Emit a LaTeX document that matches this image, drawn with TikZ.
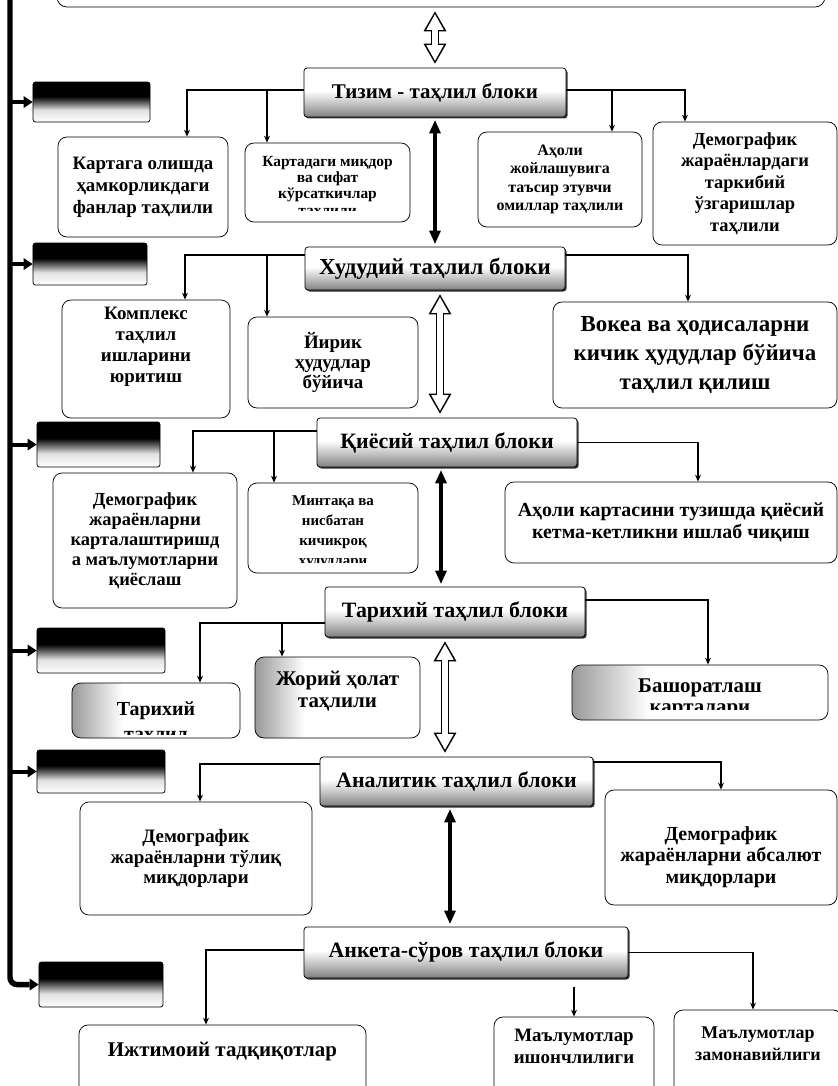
\documentclass[tikz,border=0pt]{standalone}
\usepackage{fontspec}
\setmainfont{Liberation Serif}
\usetikzlibrary{positioning,arrows.meta,shadows}
\tikzset{every picture/.style={line width=0.75pt}}
\pgfdeclareverticalshading{tagshade}{100bp}{color(0bp)=(white); color(25bp)=(white); color(40bp)=(black!12); color(51bp)=(black!70); color(57bp)=(black); color(100bp)=(black)}
\pgfdeclareverticalshading{blockshade}{100bp}{color(0bp)=(black!50); color(25bp)=(black!50); color(38bp)=(black!25); color(52bp)=(white); color(100bp)=(white)}
\pgfdeclarehorizontalshading{greyshade}{100bp}{color(0bp)=(black!40); color(25bp)=(black!40); color(40bp)=(white); color(100bp)=(white)}
\tikzset{
  blockbox/.style={draw, rounded corners=3pt, shading=blockshade,
    drop shadow={shadow xshift=1.5pt, shadow yshift=-1.5pt, fill=black!80, opacity=1},
    inner sep=0pt, font=\bfseries},
  tagbox/.style={draw, rounded corners=2.5pt, shading=tagshade, inner sep=0pt},
  itembox/.style={draw, rounded corners=9pt, fill=white, align=center, inner sep=0pt, font=\bfseries},
  greybox/.style={itembox, shading=greyshade},
  itemtext/.style={align=center, inner sep=0pt, font=\bfseries},
  link/.style={line width=1.1pt, -{Stealth[length=7pt,width=6pt,line width=0pt]}},
  feed/.style={line width=4pt, -{Triangle[length=9pt,width=12pt,line width=0pt]}},
  solidarr/.style={line width=5pt, {Triangle[length=13pt,width=12pt,line width=0pt]}-{Triangle[length=13pt,width=12pt,line width=0pt]}, shorten <=3pt, shorten >=3pt},
  hollowout/.style={line width=9pt, {Triangle[length=20pt,width=23pt,line width=0pt]}-{Triangle[length=20pt,width=23pt,line width=0pt]}, shorten <=4pt, shorten >=4pt},
  hollowin/.style={white, line width=6pt, {Triangle[length=15.5pt,width=17.5pt,line width=0pt]}-{Triangle[length=15.5pt,width=17.5pt,line width=0pt]}, shorten <=7pt, shorten >=7pt}
}

\begin{document}
\begin{tikzpicture}[x=1bp, y=-1bp]
        \useasboundingbox (0,0) rectangle (838,1086);
        \fill[white] (0,0) rectangle (838,1086);
        % moldura superior (cortada)
        \node[itembox, rounded corners=10pt, minimum width=768bp, minimum height=60bp] (top) at (441,-23) {};
        % blocos de análise
        \node[blockbox, minimum width=262bp, minimum height=49bp, font=\bfseries\fontsize{21}{24}\selectfont] (t1) at (435,92.5) {Тизим - таҳлил блоки};
        \node[blockbox, minimum width=260bp, minimum height=43bp, font=\bfseries\fontsize{23}{26}\selectfont] (t2) at (435,268.5) {Худудий таҳлил блоки};
        \node[blockbox, minimum width=260bp, minimum height=49bp, font=\bfseries\fontsize{22}{25}\selectfont] (t3) at (447,442.5) {Қиёсий таҳлил блоки};
        \node[blockbox, minimum width=260bp, minimum height=50bp, font=\bfseries\fontsize{22}{25}\selectfont] (t4) at (455,612) {Тарихий таҳлил блоки};
        \node[blockbox, minimum width=273bp, minimum height=49bp, font=\bfseries\fontsize{22}{25}\selectfont] (t5) at (456.5,781.5) {Аналитик таҳлил блоки};
        \node[blockbox, minimum width=324bp, minimum height=51bp, font=\bfseries\fontsize{22}{25}\selectfont] (t6) at (466,952.5) {Анкета-сўров таҳлил блоки};
        % etiquetas escuras à esquerda
        \node[tagbox, minimum width=117bp, minimum height=40bp] (b1) at (91.5,102) {};
        \node[tagbox, minimum width=114bp, minimum height=42bp] (b2) at (90,264) {};
        \node[tagbox, minimum width=123bp, minimum height=45bp] (b3) at (98.5,444.5) {};
        \node[tagbox, minimum width=128bp, minimum height=45bp] (b4) at (101,650.5) {};
        \node[tagbox, minimum width=128bp, minimum height=43bp] (b5) at (101,771.5) {};
        \node[tagbox, minimum width=124bp, minimum height=45bp] (b6) at (101,984.5) {};
        % itens, linha 1
        \node[itembox, minimum width=170bp, minimum height=100bp, font=\bfseries\fontsize{19}{22}\selectfont] (k1) at (143,187) {Картага олишда\\ҳамкорликдаги\\фанлар таҳлили};
        \node[itembox, minimum width=165bp, minimum height=79bp] (k2) at (327.5,182.5) {};
        \begin{scope}
          \clip (k2.north west) rectangle ([yshift=12bp]k2.south east);
          \node[itemtext, font=\bfseries\fontsize{15.5}{16.5}\selectfont] (k2t) at (327.5,187) {Картадаги миқдор\\ва сифат\\кўрсаткичлар\\таҳлили};
        \end{scope}
        \node[itembox, minimum width=164bp, minimum height=95bp, font=\bfseries\fontsize{16}{18.5}\selectfont] (k3) at (560,179.5) {Аҳоли\\жойлашувига\\таъсир этувчи\\омиллар таҳлили};
        \node[itembox, minimum width=184bp, minimum height=123bp, font=\bfseries\fontsize{18.5}{21.7}\selectfont] (k4) at (745,183.5) {Демографик\\жараёнлардаги\\таркибий\\ўзгаришлар\\таҳлили};
        % itens, linha 2
        \node[itembox, minimum width=168bp, minimum height=118bp] (k5) at (146,359) {};
        \node[itemtext, font=\bfseries\fontsize{19}{21}\selectfont] (k5t) at (146,347) {Комплекс\\таҳлил\\ишларини\\юритиш};
        \node[itembox, minimum width=170bp, minimum height=91bp, font=\bfseries\fontsize{19}{20}\selectfont] (k6) at (333,362.5) {Йирик\\ҳудудлар\\бўйича};
        \node[itembox, minimum width=284bp, minimum height=106bp, font=\bfseries\fontsize{23}{29}\selectfont] (k7) at (695,355) {Вокеа ва ҳодисаларни\\кичик ҳудудлар бўйича\\таҳлил қилиш};
        % itens, linha 3
        \node[itembox, minimum width=184bp, minimum height=135bp, font=\bfseries\fontsize{18.5}{20}\selectfont] (k8) at (145,540.5) {Демографик\\жараёнларни\\карталаштиришд\\а маълумотларни\\қиёслаш};
        \node[itembox, minimum width=170bp, minimum height=90bp] (k9) at (333,528) {};
        \begin{scope}
          \clip (k9.north west) rectangle ([yshift=11bp]k9.south east);
          \node[itemtext, font=\bfseries\fontsize{15}{20}\selectfont] (k9t) at (333,532) {Минтақа ва\\нисбатан\\кичикроқ\\ҳудудлари};
        \end{scope}
        \node[itembox, minimum width=332bp, minimum height=81bp, font=\bfseries\fontsize{20}{21.5}\selectfont] (k10) at (671,522.5) {Аҳоли картасини тузишда қиёсий\\кетма-кетликни ишлаб чиқиш};
        % itens, linha 4
        \node[greybox, minimum width=168bp, minimum height=55bp] (k11) at (156,710.5) {};
        \begin{scope}
          \clip (k11.north west) rectangle ([yshift=4bp]k11.south east);
          \node[itemtext, font=\bfseries\fontsize{20}{25}\selectfont] (k11t) at (156,722.5) {Тарихий\\таҳлил};
        \end{scope}
        \node[greybox, minimum width=165bp, minimum height=81bp] (k12) at (337.5,697.5) {};
        \node[itemtext, font=\bfseries\fontsize{21}{22}\selectfont] (k12t) at (337.5,691) {Жорий ҳолат\\таҳлили};
        \node[greybox, minimum width=256bp, minimum height=55bp] (k13) at (700,692.5) {};
        \begin{scope}
          \clip (k13.north west) rectangle ([yshift=11bp]k13.south east);
          \node[itemtext, font=\bfseries\fontsize{21}{21}\selectfont] (k13t) at (700,698) {Башоратлаш\\карталари};
        \end{scope}
        % itens, linha 5
        \node[itembox, minimum width=232bp, minimum height=113bp, font=\bfseries\fontsize{19}{21}\selectfont] (k14) at (196,858.5) {Демографик\\жараёнларни тўлиқ\\миқдорлари};
        \node[itembox, minimum width=232bp, minimum height=115bp] (k15) at (721,847.5) {};
        \node[itemtext, font=\bfseries\fontsize{20}{21.5}\selectfont] (k15t) at (721,857) {Демографик\\жараёнларни абсалют\\миқдорлари};
        % itens, linha 6 (cortados embaixo)
        \node[itembox, minimum width=287bp, minimum height=100bp] (k16) at (222.5,1075) {};
        \node[itemtext, font=\bfseries\fontsize{21}{24}\selectfont] (k16t) at (222.5,1052) {Ижтимоий тадқиқотлар};
        \node[itembox, minimum width=160bp, minimum height=96bp] (k17) at (574,1065) {};
        \node[itemtext, font=\bfseries\fontsize{19}{22}\selectfont] (k17t) at (574,1046) {Маълумотлар\\ишончлилиги};
        \node[itembox, minimum width=168bp, minimum height=100bp] (k18) at (758,1060) {};
        \node[itemtext, font=\bfseries\fontsize{18}{22}\selectfont] (k18t) at (758,1044) {Маълумотлар\\замонавийлиги};
        % barra lateral e setas para as etiquetas
        \coordinate (barx) at (10,0);
        \draw[line width=5.5pt, rounded corners=7pt, -{Triangle[length=9pt,width=12pt,line width=0pt]}] (10,-5) |- (b6.west);
        \foreach \b in {b1,b2,b3,b4,b5} {
            \draw[feed] (\b.west -| barx) -- (\b.west);
        }
        % setas entre os blocos
        \draw[hollowout] (top.south -| t1.north) -- (t1.north);
        \draw[hollowin] (top.south -| t1.north) -- (t1.north);
        \draw[solidarr] (t1.south) -- (t2.north);
        \draw[hollowout] ([xshift=5bp]t2.south) -- ([xshift=5bp]t2.south |- t3.north);
        \draw[hollowin] ([xshift=5bp]t2.south) -- ([xshift=5bp]t2.south |- t3.north);
        \draw[solidarr] ([xshift=-6bp]t3.south) -- ([xshift=-6bp]t3.south |- t4.north);
        \draw[hollowout] ([xshift=-10bp]t4.south) -- ([xshift=-10bp]t4.south |- t5.north);
        \draw[hollowin] ([xshift=-10bp]t4.south) -- ([xshift=-10bp]t4.south |- t5.north);
        \draw[solidarr] ([xshift=-6.5bp]t5.south) -- ([xshift=-6.5bp]t5.south |- t6.north);
        % ramificações
        \draw[link] ([yshift=2.5bp]t1.west) -| ([xshift=44bp]k1.north);
        \draw[link] ([yshift=2.5bp]t1.west) -| ([xshift=-60.5bp]k2.north);
        \draw[link] ([yshift=2.5bp]t1.east) -| ([xshift=52bp]k3.north);
        \draw[link] ([yshift=2.5bp]t1.east) -| ([xshift=-60bp]k4.north);
        \draw[link] ([yshift=13.5bp]t2.west) -| ([xshift=39bp]k5.north);
        \draw[link] ([yshift=13.5bp]t2.west) -| ([xshift=-66bp]k6.north);
        \draw[link] ([yshift=13.5bp]t2.east) -| ([xshift=-7bp]k7.north);
        \draw[link] ([yshift=11.5bp]t3.west) -| ([xshift=48bp]k8.north);
        \draw[link] ([yshift=11.5bp]t3.west) -| ([xshift=-59bp]k9.north);
        \draw[link] (t3.east) -| ([xshift=27bp]k10.north);
        \draw[link] ([yshift=-11bp]t4.west) -| ([xshift=44bp]k11.north);
        \draw[link] ([yshift=-11bp]t4.west) -| ([xshift=-55.5bp]k12.north);
        \draw[link] ([yshift=12bp]t4.east) -| ([xshift=8bp]k13.north);
        \draw[link] ([yshift=17.5bp]t5.west) -| ([xshift=4bp]k14.north);
        \draw[link] ([yshift=19.5bp]t5.east) -| (k15.north);
        \draw[link] ([yshift=2.5bp]t6.west) -| ([xshift=-16.5bp]k16.north);
        \draw[link] (t6.east) -| ([xshift=-5bp]k18.north);
        \draw[link] (k17.north |- t6.south) ++(0,9) -- (k17.north);
    \end{tikzpicture}
\end{document}
